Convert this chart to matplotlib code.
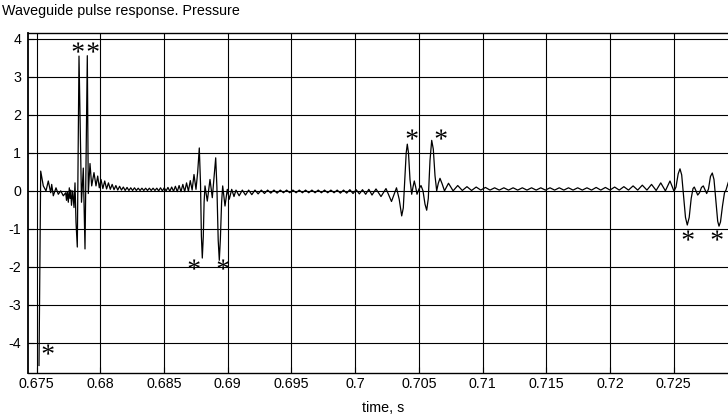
import numpy as np
import matplotlib
matplotlib.use('Agg')
import matplotlib.pyplot as plt
from matplotlib.textpath import TextPath
from matplotlib.path import Path
from matplotlib.font_manager import FontProperties

plt.rcParams['font.family'] = ['Liberation Sans', 'DejaVu Sans']
plt.rcParams['axes.unicode_minus'] = False

# pressure trace: explicit vertices around the pulses
t_start = [0.675188, 0.675322, 0.675526, 0.675738, 0.675918, 0.676107, 0.676185,
           0.676311, 0.676523, 0.676703, 0.676892, 0.677096, 0.677284, 0.677347,
           0.677410, 0.677488, 0.677567, 0.677622, 0.677677, 0.677739, 0.677833,
           0.677936, 0.678014, 0.678093, 0.678195, 0.678328, 0.678524, 0.678665,
           0.678799, 0.678980, 0.679058, 0.679191, 0.679325, 0.679505, 0.679662,
           0.679796, 0.679921]
p_start = [-4.6, 0.52, 0.13, 0.0, 0.26, -0.05, 0.17,
           -0.13, 0.08, -0.09, 0.0, -0.13, -0.05, -0.25,
           -0.02, -0.3, 0.08, -0.2, 0.02, -0.38, 0.0,
           -0.44, 0.21, -0.83, -1.48, 3.55, -0.3, 0.6,
           -1.53, 3.56, -0.07, 0.72, 0.13, 0.48, 0.13,
           0.39, 0.08]

# ringing after first pulse (alternating extrema, evenly spread in time)
ring_a_span = (0.680055, 0.687354)
ring_a = [0.30, 0.06, 0.26, 0.05, 0.21, 0.04, 0.17, 0.03, 0.14, 0.02,
          0.12, 0.02, 0.10, 0.01, 0.09, 0.01, 0.08, 0.01, 0.08, 0.01,
          0.07, 0.01, 0.07, 0.01, 0.07, 0.01, 0.07, 0.01, 0.07, 0.01,
          0.07, 0.0, 0.08, 0.0, 0.08, 0.0, 0.09, -0.01, 0.10, -0.01,
          0.12, -0.02, 0.14, -0.02, 0.17, -0.02, 0.21, -0.01, 0.27, 0.02,
          0.43]

t_second = [0.687511, 0.687645, 0.687770, 0.687865, 0.687935, 0.688006, 0.688084,
            0.688147, 0.688218, 0.688398, 0.688610, 0.688791, 0.688940, 0.689058,
            0.689152, 0.689254, 0.689340, 0.689427, 0.689521, 0.689607, 0.689788,
            0.689968, 0.690125, 0.690314, 0.690494]
p_second = [0.04, 0.50, 1.13, 0.20, -1.20, -1.77, -1.20,
            -0.30, 0.13, -0.27, 0.30, -0.18, 0.40, 0.87,
            0.10, -1.30, -1.83, -1.25, -0.30, 0.13, -0.40,
            0.04, -0.22, 0.04, -0.15]

ring_b_span = (0.690651, 0.701326)
ring_b = [0.02, -0.13, 0.02, -0.11, 0.02, -0.10, 0.02, -0.08, 0.02, -0.07,
          0.02, -0.06, 0.02, -0.06, 0.02, -0.05, 0.02, -0.05, 0.02, -0.05,
          0.02, -0.05, 0.02, -0.05, 0.02, -0.05, 0.02, -0.05, 0.02, -0.05,
          0.02, -0.05, 0.02, -0.06, 0.02, -0.06, 0.03, -0.07, 0.03, -0.08,
          0.03, -0.09, 0.04, -0.11]

t_third = [0.701640, 0.702032, 0.702424, 0.702856, 0.703248, 0.703461, 0.703657,
           0.703782, 0.703900, 0.704010, 0.704096, 0.704190, 0.704308, 0.704442,
           0.704544, 0.704646, 0.704756, 0.704858, 0.705015, 0.705172, 0.705329,
           0.705486, 0.705619, 0.705745, 0.705878, 0.706012, 0.706137, 0.706271,
           0.706404, 0.706529, 0.706663, 0.706836, 0.707016]
p_third = [0.05, -0.15, 0.06, -0.28, 0.08, -0.22, -0.66,
           -0.45, 0.30, 1.00, 1.23, 1.00, 0.30, -0.09,
           0.10, 0.26, 0.10, -0.09, 0.05, 0.14, 0.00,
           -0.35, -0.51, -0.20, 0.80, 1.33, 1.10, 0.40,
           0.00, 0.20, 0.33, 0.18, 0.00]

ring_c_span = (0.707330, 0.724716)
ring_c = [0.20, 0.0, 0.14, 0.01, 0.11, 0.01, 0.10, 0.02, 0.09, 0.02,
          0.08, 0.02, 0.08, 0.02, 0.08, 0.02, 0.08, 0.02, 0.08, 0.02,
          0.08, 0.02, 0.08, 0.02, 0.08, 0.02, 0.08, 0.02, 0.08, 0.02,
          0.08, 0.02, 0.09, 0.02, 0.09, 0.02, 0.10, 0.02, 0.11, 0.02,
          0.13, 0.02, 0.15, 0.02, 0.17, 0.01, 0.21, 0.0, 0.26]

t_fourth = [0.725030, 0.725187, 0.725360, 0.725501, 0.725634, 0.725783, 0.725932,
            0.726073, 0.726223, 0.726380, 0.726521, 0.726623, 0.726757, 0.726890,
            0.727031, 0.727188, 0.727329, 0.727463, 0.727596, 0.727737, 0.727894,
            0.728036, 0.728169, 0.728326, 0.728460, 0.728562, 0.728680, 0.728836,
            0.728993, 0.729111, 0.729269, 0.729425]
p_fourth = [-0.01, 0.10, 0.45, 0.58, 0.42, -0.15, -0.70,
            -0.90, -0.70, -0.20, 0.06, 0.10, 0.00, -0.11,
            -0.05, 0.09, 0.13, 0.03, -0.07, 0.05, 0.38,
            0.47, 0.30, -0.30, -0.80, -0.93, -0.82, -0.40,
            -0.05, 0.02, 0.20, 0.35]

# detected extrema marks
star_t = [0.675793, 0.678195, 0.679325, 0.687252, 0.689529,
          0.704363, 0.706663, 0.726073, 0.728303]
star_p = [-4.27, 3.68, 3.68, -2.03, -2.03, 1.39, 1.39, -1.27, -1.27]

xticks = [0.675, 0.68, 0.685, 0.69, 0.695, 0.7, 0.705, 0.71, 0.715, 0.72, 0.725]
xtick_labels = ['0.675', '0.68', '0.685', '0.69', '0.695', '0.7', '0.705',
                '0.71', '0.715', '0.72', '0.725']
yticks = [-4, -3, -2, -1, 0, 1, 2, 3, 4]

t = np.concatenate([t_start, np.linspace(*ring_a_span, len(ring_a)),
                    t_second, np.linspace(*ring_b_span, len(ring_b)),
                    t_third, np.linspace(*ring_c_span, len(ring_c)),
                    t_fourth])
p = np.concatenate([p_start, ring_a, p_second, ring_b, p_third, ring_c, p_fourth])

# asterisk glyph as a centred marker
tp = TextPath((0, 0), '*', prop=FontProperties(family='Liberation Serif'))
verts = tp.vertices.copy()
mins, maxs = verts.min(axis=0), verts.max(axis=0)
verts = verts - (mins + maxs) / 2.0
star = Path(verts, tp.codes)

fig = plt.figure(figsize=(7.28, 4.18), dpi=100)
ax = fig.add_axes([28 / 728, 1 - 372.7 / 418, 700 / 728, (372.7 - 33.3) / 418])

ax.plot(t, p, color='black', lw=0.9)
ax.plot(star_t, star_p, linestyle='none', marker=star, markersize=13,
        markerfacecolor='black', markeredgewidth=0, color='black')

ax.set_xlim(0.674325, 0.729269)
ax.set_ylim(-4.79, 4.15)
ax.set_xticks(xticks)
ax.set_xticklabels(xtick_labels)
ax.set_yticks(yticks)
ax.set_yticklabels([str(v) for v in yticks])
ax.grid(True, color='black', lw=0.8, ls='-')
ax.set_axisbelow(True)
ax.tick_params(direction='in', length=4, labelsize=10.3, colors='black')
ax.tick_params(axis='x', pad=3)
ax.tick_params(axis='y', pad=5)
for s in ['top', 'bottom']:
    ax.spines[s].set_linewidth(1.0)
ax.spines['left'].set_linewidth(1.3)
ax.spines['right'].set_visible(False)

fig.text(2 / 728, 1 - 10.5 / 418, 'Waveguide pulse response. Pressure',
         ha='left', va='center', fontsize=10.3)
fig.text(383 / 728, 1 - 408 / 418, 'time, s', ha='center', va='center',
         fontsize=10.3)

fig.savefig('out.png', dpi=100)
